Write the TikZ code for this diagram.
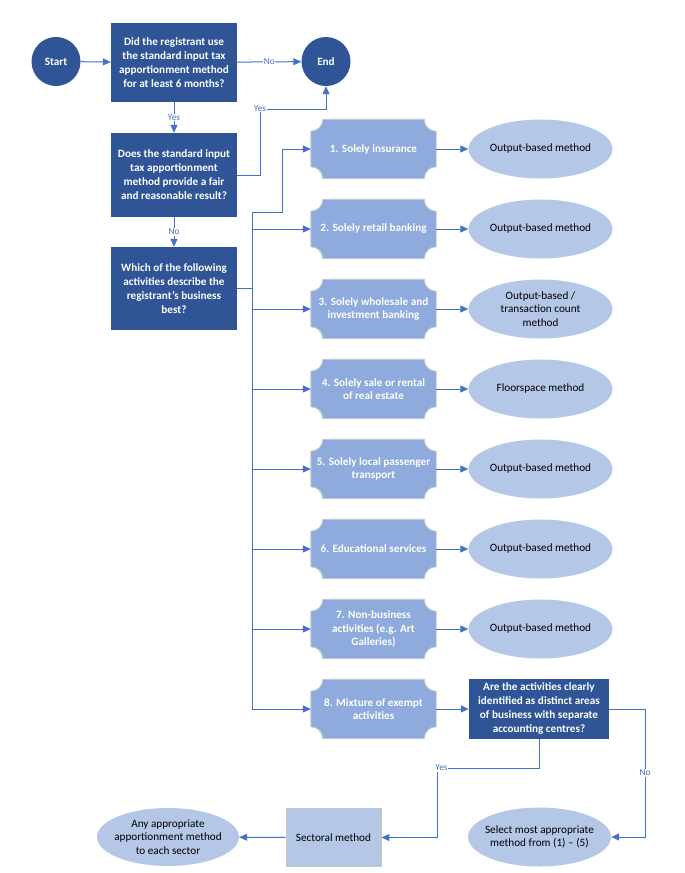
\documentclass[tikz,border=0pt]{standalone}
\usepackage{fontspec}
\setmainfont{Carlito}
\usetikzlibrary{arrows.meta,shapes.geometric}
\definecolor{darkbl}{HTML}{2F5597}
\definecolor{actfill}{HTML}{8FAADC}
\definecolor{lightbl}{HTML}{B4C7E7}
\definecolor{lnc}{HTML}{4472C4}
\definecolor{edgegray}{HTML}{C8C8C8}
\pgfdeclarelayer{bg}
\pgfsetlayers{bg,main}
\newcommand\plaquepath[1]{%
 \path[fill=actfill, draw=edgegray, line width=0.9pt]
  ([yshift=-12pt]#1.north west) .. controls ([xshift=6.6pt,yshift=-12pt]#1.north west) and ([xshift=12pt,yshift=-6.6pt]#1.north west) .. ([xshift=12pt]#1.north west)
  -- ([xshift=-12pt]#1.north east) .. controls ([xshift=-12pt,yshift=-6.6pt]#1.north east) and ([xshift=-6.6pt,yshift=-12pt]#1.north east) .. ([yshift=-12pt]#1.north east)
  -- ([yshift=12pt]#1.south east) .. controls ([xshift=-6.6pt,yshift=12pt]#1.south east) and ([xshift=-12pt,yshift=6.6pt]#1.south east) .. ([xshift=-12pt]#1.south east)
  -- ([xshift=12pt]#1.south west) .. controls ([xshift=12pt,yshift=6.6pt]#1.south west) and ([xshift=6.6pt,yshift=12pt]#1.south west) .. ([yshift=12pt]#1.south west)
  -- cycle;}
\tikzset{
 conn/.style={draw=lnc, line width=1pt},
 arr/.style={conn, -{Triangle[length=8pt,width=7pt]}},
 darkbox/.style={fill=darkbl, text=white, font=\bfseries\fontsize{11.2}{14}\selectfont, align=center, inner sep=0pt, minimum width=126pt},
 circ/.style={circle, fill=darkbl, text=white, font=\bfseries\fontsize{11.2}{14}\selectfont, minimum size=49pt, inner sep=0pt},
 actbox/.style={text=white, font=\bfseries\fontsize{11.2}{13.5}\selectfont, align=center, minimum width=125pt, minimum height=59pt, inner sep=0pt},
 oval/.style={ellipse, fill=lightbl, text=black, font=\fontsize{11.2}{13.5}\selectfont, align=center, minimum width=144pt, minimum height=59pt, inner sep=-12pt},
 lab/.style={text=lnc, font=\fontsize{9.3}{10}\selectfont, fill=white, inner sep=0.6pt},
}
\begin{document}
\begin{tikzpicture}[x=1pt,y=-1pt]
\useasboundingbox (0,0) rectangle (685,873);
\begin{pgfonlayer}{bg}
\fill[white] (0,0) rectangle (685,873);
\end{pgfonlayer}
% top row
\node[circ] (start) at (56,61.5) {Start};
\node[darkbox, minimum height=79pt] (q1) at (174,62.5) {Did the registrant use\\the standard input tax\\apportionment method\\for at least 6 months?};
\node[circ] (end) at (326,61.5) {End};
\node[darkbox, minimum height=84pt] (q2) at (174,175) {Does the standard input\\tax apportionment\\method provide a fair\\and reasonable result?};
\node[darkbox, minimum height=83pt] (q3) at (174,288.5) {Which of the following\\activities describe the\\registrant’s business\\best?};
% activities
\node[actbox] (a1) at (373.5,149) {1. Solely insurance};
\node[actbox] (a2) at (373.5,229) {2. Solely retail banking};
\node[actbox] (a3) at (373.5,309) {3. Solely wholesale and\\investment banking};
\node[actbox] (a4) at (373.5,389) {4. Solely sale or rental\\of real estate};
\node[actbox] (a5) at (373.5,469) {5. Solely local passenger\\transport};
\node[actbox] (a6) at (373.5,549) {6. Educational services};
\node[actbox] (a7) at (373.5,629) {7. Non-business\\activities (e.g. Art\\Galleries)};
\node[actbox] (a8) at (373.5,709) {8. Mixture of exempt\\activities};
\begin{pgfonlayer}{bg}
\foreach \k in {1,...,8}{\plaquepath{a\k}}
\end{pgfonlayer}
% methods
\node[oval] (m1) at (540.5,149) {Output-based method};
\node[oval] (m2) at (540.5,229) {Output-based method};
\node[oval] (m3) at (540.5,309) {Output-based /\\transaction count\\method};
\node[oval] (m4) at (540.5,389) {Floorspace method};
\node[oval] (m5) at (540.5,469) {Output-based method};
\node[oval] (m6) at (540.5,549) {Output-based method};
\node[oval] (m7) at (540.5,629) {Output-based method};
\node[darkbox, minimum width=140pt, minimum height=60pt] (q4) at (539,709) {Are the activities clearly\\identified as distinct areas\\of business with separate\\accounting centres?};
% bottom row
\node[oval, minimum width=143pt, minimum height=59pt] (sel) at (539.5,837) {Select most appropriate\\method from (1) – (5)};
\node[fill=lightbl, draw=edgegray, line width=0.9pt, minimum width=95pt, minimum height=58pt, inner sep=0pt, font=\fontsize{11.2}{13.5}\selectfont] (sect) at (333.5,837.5) {Sectoral method};
\node[oval, minimum width=142pt, minimum height=58pt] (any) at (168,837) {Any appropriate\\apportionment method\\to each sector};
% coordinates
\coordinate (bus) at (252,288.5);
\coordinate (b1) at (282,212);
\coordinate (yc) at (260,109);
\coordinate (ys) at (437,768);
\coordinate (nc) at (645,837);
% connectors
\draw[arr] (start) -- (q1);
\draw[arr] (q1) -- node[lab]{No} (end);
\draw[arr] (q1) -- node[lab]{Yes} (q2);
\draw[arr] (q2) -- node[lab]{No} (q3);
\draw[arr] (q2.east) -| (yc) -| (end.south);
\node[lab] at (260,108.5) {Yes};
\draw[conn] (q3.east) -- (bus);
\draw[arr] (bus) |- (b1) |- (a1.west);
\foreach \k in {2,...,8}{\draw[arr] (bus) |- (a\k.west);}
\foreach \k in {1,...,7}{\draw[arr] (a\k) -- (m\k);}
\draw[arr] (a8) -- (q4);
\draw[arr] (q4.south) |- (ys) |- (sect.east);
\node[lab] at (441.5,768) {Yes};
\draw[arr] (q4.east) -| (nc) -- (sel.east);
\node[lab] at (645,773) {No};
\draw[arr] (sect) -- (any);
\end{tikzpicture}
\end{document}
